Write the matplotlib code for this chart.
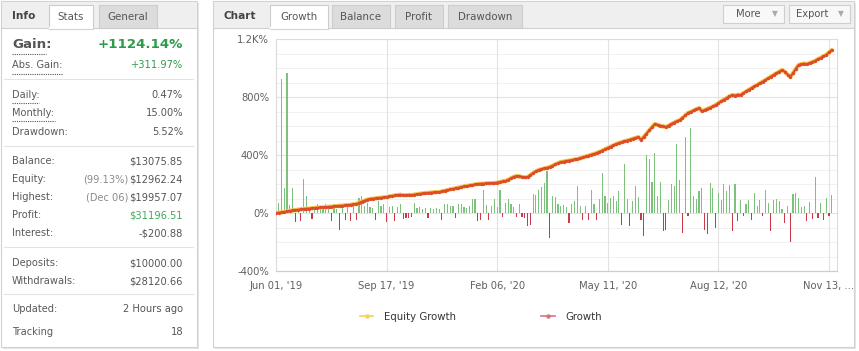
import matplotlib
matplotlib.use("Agg")
import matplotlib.pyplot as plt
import numpy as np
from matplotlib.patches import Rectangle

# ---------------- data ----------------
growth = [0, 2, 5, 8, 12, 15,
          18, 20, 23, 26, 28,
          30, 31, 33, 35, 37, 38,
          39, 41, 43, 44, 46, 48,
          50, 51, 53, 55, 57, 60, 62,
          70, 78, 85, 92, 97,
          99, 101, 104, 106, 108, 110,
          114, 118, 121, 124,
          126, 123, 122, 125, 124,
          127, 130, 133, 135, 138,
          139, 141, 142, 144, 145,
          149, 154, 158, 163, 167, 171, 175, 179,
          183, 186, 190, 193, 197, 200,
          202, 203, 204, 205, 206, 207,
          210, 214, 218, 221,
          230, 240, 250, 255,
          252, 249, 246, 248,
          262, 276, 288, 297,
          302, 307, 312, 317,
          326, 335, 344, 352,
          355, 359, 362, 365, 369, 372,
          378, 384, 390, 396, 402, 408, 414,
          422, 431, 440,
          449, 458, 466, 475, 483,
          489, 495, 500, 506, 512, 518, 524,
          505,
          525, 548, 570, 592, 614,
          608, 602, 597, 593,
          603, 614, 624, 633, 641,
          656, 673, 690,
          698, 707, 716, 724,
          703,
          710, 718, 726, 735, 745,
          757, 770, 782, 793, 804, 814,
          810, 816, 814,
          826, 838, 850, 862, 873, 884, 895, 906, 917,
          929, 941, 953, 964, 975, 986,
          975, 955, 938,
          965, 995, 1021,
          1026, 1031, 1027, 1035, 1041,
          1050, 1062,
          1070, 1082, 1090,
          1108, 1124]
equity_growth = list(growth)   # overlaps the growth line in the picture

daily_bars = [-85, 69, 924, 172, 966, 57, 172, -62, 35, -53,
              236, 120, 35, -40, 40, 60, 35, 45, 63, 40,
              -57, 60, 30, -119, 65, -45, 45, -57, 65, -50,
              103, 115, 50, 70, 40, 35, -50, 80, 50, 60,
              -62, 40, 50, -53, 40, 60, -40, -35, -35, -25,
              69, 35, 40, 30, 35, -35, 35, 30, 35, 30,
              -45, 65, 60, 50, 45, -35, 65, 60, 40, 35,
              45, 100, 95, -57, -50, 160, 55, -50, 45, 100,
              40, 160, -25, 70, 100, 60, 40, -25, 65, -30,
              -35, -90, -80, 130, 125, 160, 180, 207, 290, -172,
              115, 110, 60, 45, 55, 40, -69, 60, 80, 184,
              50, -50, 45, -50, 160, 60, -50, 100, 276,
              120, 69, 103, 115, 80, 150, -80, 338, 100, -92,
              80, 189, 110, -46, -161,
              400, 369, 214, 414, 115, 214, -126, -115, 92, 203,
              184, 478, 230, -138, 522, -23, 586,
              115, 100, 150, 172, -115, -143, 207, 172, -103, 138,
              92, 203, 150, 195, -126, 203, -57, 92,
              -18, 60, 92, -50, 138, 46, 92, -23, 161, 69,
              -126, 92, 100, 80, 30, -69, 46, -202, 130, 138,
              103, 40, 46, -57, 74, -41, 246, -34, 69, -46,
              103, -23, 126]

date_labels = ["Jun 01, '19", "Sep 17, '19", "Feb 06, '20", "May 11, '20", "Aug 12, '20", "Nov 13, ..."]
y_ticks = [-400, 0, 400, 800, 1200]
y_tick_labels = ["-400%", "0%", "400%", "800%", "1.2K%"]

stat_labels = ["Gain:", "Abs. Gain:", "Daily:", "Monthly:", "Drawdown:", "Balance:", "Equity:",
               "Highest:", "Profit:", "Interest:", "Deposits:", "Withdrawals:", "Updated:", "Tracking"]
stat_values = ["+1124.14%", "+311.97%", "0.47%", "15.00%", "5.52%", "$13075.85", "$12962.24",
               "$19957.07", "$31196.51", "-$200.88", "$10000.00", "$28120.66", "2 Hours ago", "18"]
stat_notes = ["", "", "", "", "", "", "(99.13%)", "(Dec 06)", "", "", "", "", "", ""]

left_tabs = ["Stats", "General"]
chart_tabs = ["Growth", "Balance", "Profit", "Drawdown"]
buttons = ["More", "Export"]
legend_names = ["Equity Growth", "Growth"]

# ---------------- figure ----------------
W, H = 859, 351
FONT = "DejaVu Sans"
plt.rcParams['font.family'] = [FONT]
fig = plt.figure(figsize=(W / 100, H / 100), dpi=100)
fig.patch.set_facecolor("white")
bg = fig.add_axes([0, 0, 1, 1])
bg.set_xlim(0, W)
bg.set_ylim(H, 0)
bg.axis("off")


def rect(x, y, w, h, fc, ec="none", lw=0.8, z=1):
    bg.add_patch(Rectangle((x, y), w, h, facecolor=fc, edgecolor=ec, linewidth=lw, zorder=z))


# panels with soft shadow
for (px, pw) in [(1, 196), (213, 641)]:
    rect(px + 2, 3, pw, 346, "#e4e4e4", z=0)
    rect(px, 1, pw, 346, "white", "#d2d2d2", z=1)
    rect(px + 0.5, 1.5, pw - 1, 26.5, "#efefef", z=2)
    bg.plot([px, px + pw], [28, 28], color="#d0d0d0", lw=0.8, zorder=2)

# left header
bg.text(12, 16, "Info", fontsize=7.6, fontweight="bold", color="#444444", va="center", zorder=5)
tab_boxes = [(49, 44), (99, 58)]
for i, (name, (tx, tw)) in enumerate(zip(left_tabs, tab_boxes)):
    active = i == 0
    rect(tx, 5, tw, 23.5 if active else 23, "white" if active else "#dcdcdc", "#cccccc", z=3)
    if active:
        bg.plot([tx + 0.6, tx + tw - 0.6], [28.3, 28.3], color="white", lw=1.6, zorder=4)
    bg.text(tx + tw / 2, 17, name, fontsize=7.4, color="#555555", ha="center", va="center", zorder=5)

# stats rows
row_y = [45, 65, 95, 113, 132, 161, 179, 197, 215, 233, 263, 281, 309, 332]
for i, (lab, val, note, yy) in enumerate(zip(stat_labels, stat_values, stat_notes, row_y)):
    if i == 0:
        bg.text(12, yy, lab, fontsize=9.6, fontweight="bold", color="#555555", va="center", zorder=5)
        bg.text(183, yy, val, fontsize=9.6, fontweight="bold", color="#2f9a4c", ha="right", va="center", zorder=5)
    else:
        vcol = "#555555"
        if i == 1:
            vcol = "#2f9a4c"
        if i == 8:
            vcol = "#3caa5a"
        bg.text(12, yy, lab, fontsize=7.1, color="#5a5a5a", va="center", zorder=5)
        bg.text(183, yy, val, fontsize=7.1, color=vcol, ha="right", va="center", zorder=5)
        if note:
            bg.text(128, yy, note, fontsize=7.1, color="#8a8a8a", ha="right", va="center", zorder=5)

# dotted underlines
for (x0, x1, yy) in [(12, 46, 54), (12, 62, 74), (12, 39, 103), (12, 55, 121)]:
    bg.plot([x0, x1], [yy, yy], color="#555555", lw=0.8, ls=(0, (1, 1)), zorder=5)

# separators
for yy in [79, 146, 247, 294]:
    bg.plot([4, 193], [yy, yy], color="#e3e3e3", lw=0.8, zorder=5)

# right header
bg.text(224, 16, "Chart", fontsize=7.6, fontweight="bold", color="#444444", va="center", zorder=5)
ctab_boxes = [(270, 58), (332, 58), (395, 48), (448, 74)]
for i, (name, (tx, tw)) in enumerate(zip(chart_tabs, ctab_boxes)):
    active = i == 0
    rect(tx, 5, tw, 23.5 if active else 23, "white" if active else "#dcdcdc", "#cccccc", z=3)
    if active:
        bg.plot([tx + 0.6, tx + tw - 0.6], [28.3, 28.3], color="white", lw=1.6, zorder=4)
    bg.text(tx + tw / 2, 17, name, fontsize=7.4, color="#555555", ha="center", va="center", zorder=5)

btn_boxes = [(723, 61, 748, 775), (789, 61, 812, 841)]
for name, (bx, bw, tx, ax_) in zip(buttons, btn_boxes):
    rect(bx, 4.5, bw, 18.5, "#f8f8f8", "#cfcfcf", z=3)
    bg.text(tx, 14, name, fontsize=7.2, color="#555555", ha="center", va="center", zorder=5)
    bg.text(ax_, 14, "\u25BC", fontsize=5.5, color="#aaaaaa", ha="center", va="center", zorder=5)

# legend
leg_items = [(360, 373, 384, "#f2d35a"), (541, 555, 565, "#d9737a")]
for name, (lx0, lx1, tx, col) in zip(legend_names, leg_items):
    bg.plot([lx0, lx1], [316, 316], color=col, lw=1.2, zorder=5)
    bg.plot([(lx0 + lx1) / 2], [316], marker="o", ms=2.2, color=col, zorder=6)
    bg.text(tx, 316.5, name, fontsize=7.3, color="#333333", va="center", zorder=5)

# ---------------- chart ----------------
L, R, T, B = 276, 837, 39, 271
ax = fig.add_axes([L / W, (H - B) / H, (R - L) / W, (B - T) / H])
ax.set_facecolor("white")
n = len(growth)
x = np.arange(n)
xb = np.arange(len(daily_bars))
vals = np.array(daily_bars, dtype=float)

# grid
for yv in np.arange(-400, 1201, 100):
    ax.axhline(yv, color="#f1f1f1", lw=0.7, zorder=0)
for yv in y_ticks:
    ax.axhline(yv, color="#e2e2e2", lw=0.8, zorder=0)
tick_pos = np.arange(0, n + 1, 40)[:len(date_labels)]
for xv in tick_pos:
    ax.axvline(xv, color="#e2e2e2", lw=0.8, zorder=0)

pos = np.where(vals > 0, vals, 0)
neg = np.where(vals < 0, vals, 0)
ax.bar(xb, pos, width=0.42, color="#7cc27c", zorder=2, linewidth=0)
ax.bar(xb, neg, width=0.42, color="#c9384c", zorder=2, linewidth=0)

ax.plot(x, equity_growth, color="#f4c84a", lw=3.0, zorder=3, solid_capstyle="round")
ax.plot(x, growth, color="#de4b28", lw=1.4, marker="o", ms=2.4, mew=0, zorder=4)

ax.set_xlim(0, 202.9)
ax.set_ylim(-400, 1200)
ax.set_yticks(y_ticks)
ax.set_yticklabels(y_tick_labels)
ax.set_xticks(tick_pos)
ax.set_xticklabels(date_labels)
ax.tick_params(axis="both", length=0, labelsize=7.2, labelcolor="#606060")
ax.tick_params(axis="y", pad=5)
ax.tick_params(axis="x", pad=7)
for s in ["top", "right", "left"]:
    ax.spines[s].set_color("#dcdcdc")
    ax.spines[s].set_linewidth(0.8)
ax.spines["bottom"].set_color("#c4cfdc")
ax.spines["bottom"].set_linewidth(0.9)

fig.savefig("out.png", dpi=100, facecolor="white")
